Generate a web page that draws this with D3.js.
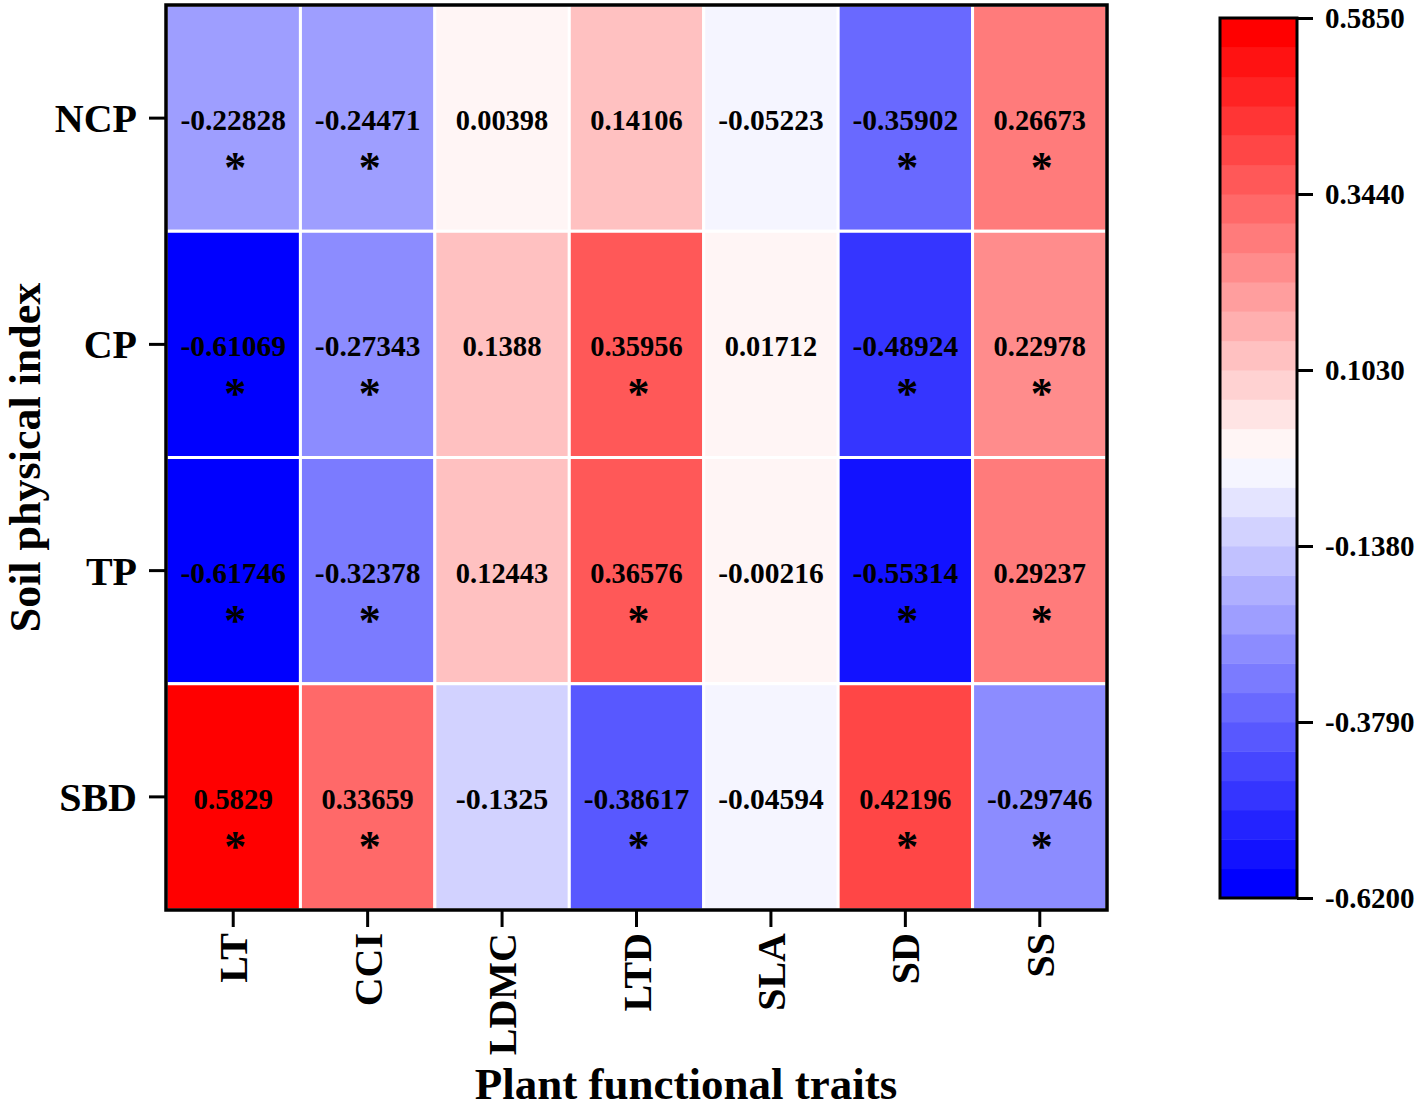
<!DOCTYPE html>
<html><head><meta charset="utf-8">
<script src="https://cdn.jsdelivr.net/npm/d3@7"></script>
<style>body{margin:0;background:#fff}svg{display:block}text{font-family:"Liberation Serif","Times New Roman",serif;font-weight:bold}</style>
</head><body>
<script>
const rowsLabels = ["NCP","CP","TP","SBD"];
const colLabels = ["LT","CCI","LDMC","LTD","SLA","SD","SS"];
const valNCP = [-0.22828,-0.24471,0.00398,0.14106,-0.05223,-0.35902,0.26673];
const valCP  = [-0.61069,-0.27343,0.1388,0.35956,0.01712,-0.48924,0.22978];
const valTP  = [-0.61746,-0.32378,0.12443,0.36576,-0.00216,-0.55314,0.29237];
const valSBD = [0.5829,0.33659,-0.1325,-0.38617,-0.04594,0.42196,-0.29746];
const sigNCP = [1,1,0,0,0,1,1];
const sigCP  = [1,1,0,1,0,1,1];
const sigTP  = [1,1,0,1,0,1,1];
const sigSBD = [1,1,0,1,0,1,1];
const colorTicks = [0.585,0.344,0.103,-0.138,-0.379,-0.62];
const nBands = 30;

const values = [valNCP,valCP,valTP,valSBD];
const sigs = [sigNCP,sigCP,sigTP,sigSBD];
const cells = [];
rowsLabels.forEach((r,i)=>colLabels.forEach((c,j)=>cells.push({r,c,v:values[i][j],s:sigs[i][j]})));

const W=1424,H=1109;
const svg=d3.select("body").append("svg").attr("width",W).attr("height",H);
svg.append("rect").attr("width",W).attr("height",H).attr("fill","#fff");

const L=166,R=1107,T=5,B=910;
const x=d3.scaleBand().domain(colLabels).range([L,R]);
const y=d3.scaleBand().domain(rowsLabels).range([T,B]);

const vmin=-0.62,vmax=0.585;
const half=nBands/2;
const bandColors=d3.range(nBands).map(b=>{
  if(b<half){const s=245*b/(half-1);return d3.rgb(s,s,255).toString();}
  const k=nBands-1-b;const s=245*k/(half-1);return d3.rgb(255,s,s).toString();
});
const color=d3.scaleQuantize().domain([vmin,vmax]).range(bandColors);

svg.append("g").selectAll("rect").data(cells).join("rect")
  .attr("x",d=>x(d.c)).attr("y",d=>y(d.r))
  .attr("width",x.bandwidth()).attr("height",y.bandwidth())
  .attr("fill",d=>color(d.v)).attr("stroke","#fff").attr("stroke-width",3);

const tg=svg.append("g");
tg.selectAll("text.v").data(cells).join("text").attr("class","v")
  .attr("x",d=>x(d.c)+x.bandwidth()/2).attr("y",d=>y(d.r)+y.bandwidth()/2+2)
  .attr("text-anchor","middle").attr("dominant-baseline","central")
  .attr("font-size",29.5).attr("textLength",d=>String(d.v).length*13.2).attr("lengthAdjust","spacingAndGlyphs")
  .text(d=>String(d.v));
tg.selectAll("text.s").data(cells.filter(d=>d.s)).join("text").attr("class","s")
  .attr("x",d=>x(d.c)+x.bandwidth()/2+2).attr("y",d=>y(d.r)+y.bandwidth()/2+64)
  .attr("text-anchor","middle")
  .attr("font-size",44).text("*");

// frame
svg.append("rect").attr("x",L).attr("y",T).attr("width",R-L).attr("height",B-T)
  .attr("fill","none").attr("stroke","#000").attr("stroke-width",3.5);

// axes
const yAx=svg.append("g").attr("transform",`translate(${L-1},0)`)
  .call(d3.axisLeft(y).tickSize(16).tickPadding(12));
yAx.select(".domain").remove();
yAx.selectAll("line").attr("stroke","#000").attr("stroke-width",3);
yAx.selectAll("text").attr("font-size",40).attr("fill","#000").attr("font-family","Liberation Serif").attr("dy","0.35em");

const xAx=svg.append("g").attr("transform",`translate(0,${B+1})`)
  .call(d3.axisBottom(x).tickSize(16).tickPadding(8));
xAx.select(".domain").remove();
xAx.selectAll("line").attr("stroke","#000").attr("stroke-width",3);
xAx.selectAll("text").attr("font-size",40).attr("fill","#000").attr("font-family","Liberation Serif")
  .attr("transform","rotate(-90)").attr("text-anchor","end")
  .attr("x",-22).attr("y",0).attr("dy","0.35em");

svg.append("text").attr("x",686).attr("y",1099).attr("text-anchor","middle")
  .attr("font-size",45).text("Plant functional traits");
svg.append("text").attr("transform",`translate(40,${(T+B)/2}) rotate(-90)`).attr("text-anchor","middle")
  .attr("font-size",44).text("Soil physical index");

// colorbar
const cbX=1220,cbW=77,cbT=18,cbB=898;
const cy=d3.scaleLinear().domain([vmin,vmax]).range([cbB,cbT]);
const step=(vmax-vmin)/nBands;
svg.append("g").selectAll("rect").data(d3.range(nBands)).join("rect")
  .attr("x",cbX).attr("y",b=>cy(vmin+(b+1)*step)).attr("width",cbW)
  .attr("height",b=>cy(vmin+b*step)-cy(vmin+(b+1)*step)+0.5)
  .attr("fill",b=>bandColors[b]);
svg.append("rect").attr("x",cbX).attr("y",cbT).attr("width",cbW).attr("height",cbB-cbT)
  .attr("fill","none").attr("stroke","#000").attr("stroke-width",3);
const fmt=d3.format(".4f");
const cAx=svg.append("g").attr("transform",`translate(${cbX+cbW},0)`)
  .call(d3.axisRight(cy).tickValues(colorTicks).tickFormat(d=>fmt(d).replace("\u2212","-")).tickSize(16).tickPadding(12));
cAx.select(".domain").remove();
cAx.selectAll("line").attr("stroke","#000").attr("stroke-width",3);
cAx.selectAll("text").attr("font-size",29).attr("fill","#000").attr("font-family","Liberation Serif");
</script>
</body></html>
